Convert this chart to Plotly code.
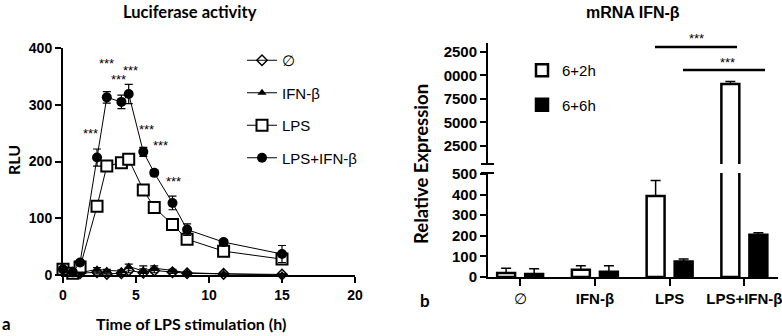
import plotly.graph_objects as go

W, H = 782, 336

# ---------------- data: panel a (luciferase) ----------------
time_h = [0, 0.67, 1.17, 2.33, 3, 4, 4.5, 5.5, 6.25, 7.5, 8.5, 11, 15]
rlu_empty = [8, 4, 3, 5, 2, 3, 8, 4, 8, 5, 3, 2, 1]
err_empty = [2, 2, 2, 3, 2, 2, 4, 12, 4, 2, 2, 1, 1]
rlu_ifn = [9, 6, 4, 10, 8, 7, 15, 7, 12, 8, 4, 2, 0]
err_ifn = [2, 2, 2, 3, 2, 2, 4, 4, 4, 2, 2, 1, 1]
rlu_lps = [10, 3, 14, 121, 192, 198, 204, 150, 119, 89, 63, 42, 28]
err_lps = [2, 2, 3, 8, 6, 6, 5, 5, 4, 5, 8, 4, 5]
rlu_lps_ifn = [10, 5, 22, 207, 313, 305, 319, 217, 180, 127, 80, 58, 37]
err_lps_ifn = [3, 3, 5, 15, 10, 12, 17, 8, 5, 12, 10, 4, 15]
series_names = ["∅", "IFN-β", "LPS", "LPS+IFN-β"]
star_t = [1.85, 3.0, 3.8, 4.6, 5.75, 6.65, 7.55]
star_y = [250, 372, 344, 360, 257, 229, 164]

# ---------------- data: panel b (mRNA) ----------------
categories = ["∅", "IFN-β", "LPS", "LPS+IFN-β"]
expr_2h = [20, 35, 393, 9100]
err_2h = [22, 20, 75, 250]
expr_6h = [15, 25, 75, 205]
err_6h = [25, 30, 12, 10]
upper_ticks = [2500, 5000, 7500, 10000, 12500]
upper_ticktext = ["2500", "5000", "7500", "0000", "2500"]


def px(x):
    return x / W


def py(y):
    return 1 - y / H


NUM_A = dict(family="Liberation Sans, Arial, sans-serif", size=14, color="black", weight="bold")
NUM_B = dict(family="Liberation Sans, Arial, sans-serif", size=15, color="black", weight="bold")
LABEL_FONT = "Lato, Open Sans, sans-serif"

fig = go.Figure()

markers = [
    dict(symbol="diamond-open", size=8, color="black", line=dict(width=1.5, color="black")),
    dict(symbol="triangle-up", size=8, color="black"),
    dict(symbol="square", size=11, color="white", line=dict(width=2, color="black")),
    dict(symbol="circle", size=10, color="black"),
]
vals = [rlu_empty, rlu_ifn, rlu_lps, rlu_lps_ifn]
errs = [err_empty, err_ifn, err_lps, err_lps_ifn]
for i, name in enumerate(series_names):
    fig.add_trace(go.Scatter(
        x=time_h, y=vals[i], name=name, mode="lines+markers",
        line=dict(color="black", width=1), marker=markers[i],
        error_y=dict(type="data", array=errs[i], color="black", thickness=1.2, width=4),
        cliponaxis=False, xaxis="x", yaxis="y", legend="legend",
        legendgroup=name,
    ))

bar_specs = [("6+2h", expr_2h, err_2h, "white"), ("6+6h", expr_6h, err_6h, "black")]
for seg, (xa, ya) in enumerate([("x2", "y2"), ("x3", "y3")]):
    for name, v, e, col in bar_specs:
        fig.add_trace(go.Bar(
            x=list(range(len(categories))), y=v, name=name, showlegend=(seg == 0),
            marker=dict(color=col, line=dict(color="black", width=2.5)),
            error_y=dict(type="data", array=e, arrayminus=[0] * len(e), symmetric=False,
                         color="black", thickness=1.5, width=5),
            xaxis=xa, yaxis=ya, legend="legend2", legendgroup=name,
        ))


def axis_common(font):
    return dict(showgrid=False, zeroline=False, showline=True, linecolor="black", linewidth=2,
                ticks="outside", ticklen=6, tickwidth=2, tickcolor="black", tickfont=font)


fig.update_layout(
    width=W, height=H, margin=dict(l=0, r=0, t=0, b=0, autoexpand=False),
    paper_bgcolor="white", plot_bgcolor="white",
    barmode="group", bargap=0.25, bargroupgap=0.36,
    xaxis=dict(domain=[px(63), px(355)], range=[0, 20], tickvals=[0, 5, 10, 15, 20], anchor="y",
               **axis_common(NUM_A)),
    yaxis=dict(domain=[py(275), py(48)], range=[0, 400], tickvals=[0, 100, 200, 300, 400], anchor="x",
               **axis_common(NUM_A)),
    xaxis2=dict(domain=[px(488), px(778)], range=[-0.43, 3.45], tickvals=[0, 1, 2, 3],
                ticktext=["∅", "<b>IFN-β</b>", "<b>LPS</b>", "<b>LPS+IFN-β</b>"], anchor="y2",
                showgrid=False, zeroline=False, showline=True, linecolor="black", linewidth=2,
                ticks="outside", ticklen=7, tickwidth=2, tickcolor="black", ticklabeloverflow="allow",
                tickfont=dict(family="Liberation Sans", size=15, color="black")),
    yaxis2=dict(domain=[py(277), py(173)], range=[0, 505], tickvals=[0, 100, 200, 300, 400, 500], anchor="x2",
                **axis_common(NUM_B)),
    xaxis3=dict(domain=[px(488), px(778)], range=[-0.43, 3.45], anchor="y3", visible=False),
    yaxis3=dict(domain=[py(164), py(43)], range=[585, 13450], tickvals=upper_ticks, ticktext=upper_ticktext,
                anchor="x3", **axis_common(NUM_B)),
    legend=dict(x=px(242), y=py(44), xanchor="left", yanchor="top", bgcolor="rgba(0,0,0,0)",
                font=dict(family="Liberation Sans", size=15, color="black"),
                traceorder="grouped", tracegroupgap=10, itemwidth=30),
    legend2=dict(x=px(522), y=py(54), xanchor="left", yanchor="top", bgcolor="rgba(0,0,0,0)",
                 font=dict(family="Liberation Sans", size=15, color="black"),
                 traceorder="grouped", tracegroupgap=12, itemwidth=30),
)


def label(text, x, y, size, family=LABEL_FONT, angle=0):
    return dict(text=text, x=px(x), y=py(y), xref="paper", yref="paper", showarrow=False,
                xanchor="center", yanchor="middle", textangle=angle,
                font=dict(family=family, size=size, color="black"))


ann = [
    label("<b>Luciferase activity</b>", 190, 12, 16.5),
    label("<b>mRNA IFN-β</b>", 633, 13, 16, family="Liberation Sans"),
    label("<b>RLU</b>", 13, 160, 16, angle=-90),
    label("<b>Time of LPS stimulation (h)</b>", 191, 323, 16),
    label("<b>Relative Expression</b>", 421, 164, 18.5, angle=-90),
    label("<b>a</b>", 6, 323, 17),
    label("<b>b</b>", 425, 300, 17),
    label("***", 696, 38, 13, family="Liberation Sans"),
    label("***", 727, 62, 13, family="Liberation Sans"),
]
for t, v in zip(star_t, star_y):
    ann.append(dict(text="***", x=t, y=v, xref="x", yref="y", showarrow=False,
                    xanchor="center", yanchor="middle",
                    font=dict(family="Liberation Sans", size=13, color="black")))
fig.update_layout(annotations=ann)


def hline(x0, x1, y, w):
    return dict(type="line", xref="paper", yref="paper", x0=px(x0), x1=px(x1), y0=py(y), y1=py(y),
                line=dict(color="black", width=w))


fig.update_layout(shapes=[
    hline(655, 737, 47, 2.5),
    hline(683, 765, 70, 2.5),
    hline(481, 494, 164, 2),
    hline(481, 494, 173, 2),
])

fig.write_html("out.html", config={"displayModeBar": False},
               post_script="document.body.style.margin='0';document.body.style.padding='0';")
